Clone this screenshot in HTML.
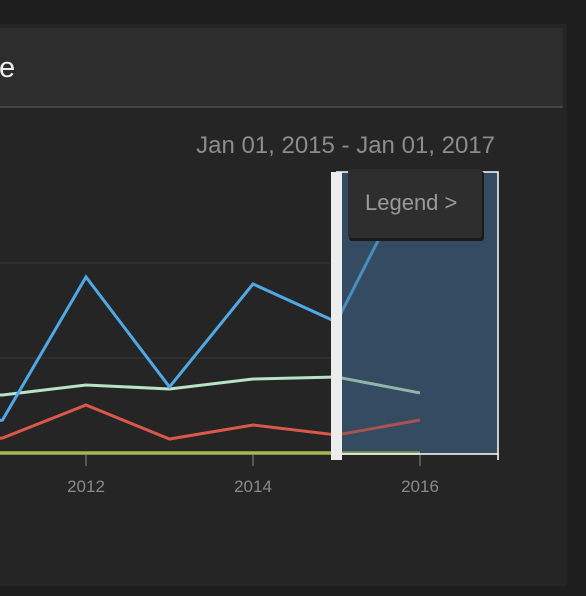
<!DOCTYPE html>
<html><head><meta charset="utf-8"><style>
body{margin:0;width:586px;height:596px;background:#1e1e1e;overflow:hidden;font-family:"Liberation Sans",sans-serif}
#panel{position:absolute;left:0;top:24px;width:567px;height:562px;background:#252525}
#header{position:absolute;left:0;top:4px;width:563px;height:78px;background:#2d2d2d;border-bottom:2px solid #454545}
#title{position:absolute;left:-1px;top:24px;color:#eee;font-size:29px}
#range{position:absolute;right:72px;top:108px;color:#8c8c8c;font-size:24px}
svg{position:absolute;left:0;top:0}
</style></head><body>
<div id="panel">
<div id="header"><div id="title">e</div></div>
<div id="range">Jan 01, 2015 - Jan 01, 2017</div>
</div>
<svg id="chart" width="586" height="596"></svg>
<script>
const years=[2010,2011,2012,2013,2014,2015,2016];
const blue=[200,347,1853,695,1779,1379,3100];
const green=[580,611,716,674,779,800,632];
const red=[60,158,505,147,295,189,347];
const olive=[0,0,0,0,0,0,0];
const tickYears=[2012,2014,2016];
const gridVals=[1000,2000];
const NS="http://www.w3.org/2000/svg";
const svg=document.getElementById('chart');
const xs=y=>86+(y-2012)*83.5;
const ys=v=>453-v*0.095;
function mk(t,a,p){const e=document.createElementNS(NS,t);for(const k in a)e.setAttribute(k,a[k]);(p||svg).appendChild(e);return e;}
const defs=mk('defs',{});
const cp=mk('clipPath',{id:'plot'},defs);
mk('rect',{x:0,y:172,width:498,height:290},cp);
gridVals.forEach(v=>{
const g=mk('line',{x1:0,x2:498,y1:ys(v),y2:ys(v),stroke:'#333','stroke-width':1.5});


});
const sel=mk('rect',{x:336,y:172,width:162,height:282,fill:'#344b62'});


const series=[[olive,'#a3b84f','series-olive',3.5],[red,'#d9584a','series-red',3],[green,'#b7e3c6','series-green',3],[blue,'#4fa9e6','series-blue',3]];
series.forEach(s=>{
const pts=years.map((y,i)=>xs(y)+','+ys(s[0][i])).join(' ');
const l=mk('polyline',{points:pts,fill:'none',stroke:s[1],'stroke-width':s[3],'clip-path':'url(#plot)'});


});
const ov=mk('rect',{x:342,y:172,width:156,height:282,fill:'rgba(52,75,98,0.3)'});


mk('polyline',{points:'336,172 498,172 498,454 336,454',fill:'none',stroke:'#fff','stroke-width':1.5});
mk('line',{x1:498,x2:498,y1:454,y2:460,stroke:'#fff','stroke-width':1.5});
tickYears.forEach(y=>{
const t=mk('line',{x1:xs(y),x2:xs(y),y1:455,y2:466,stroke:'#888','stroke-width':1});


const tx=mk('text',{x:xs(y),y:492,fill:'#8a8a8a','font-size':17,'text-anchor':'middle'});
tx.textContent=y;


});
const h=mk('rect',{x:331,y:172,width:11,height:288,fill:'#ececec'});


mk('rect',{x:349,y:171,width:135,height:70,fill:'#1a1a1a',rx:3});
const lg=mk('rect',{x:348,y:169,width:134,height:69,fill:'#2e2e2e',rx:3});


const lt=mk('text',{x:365,y:210,fill:'#9a9a9a','font-size':22});
lt.textContent='Legend >';


</script>
</body></html>
